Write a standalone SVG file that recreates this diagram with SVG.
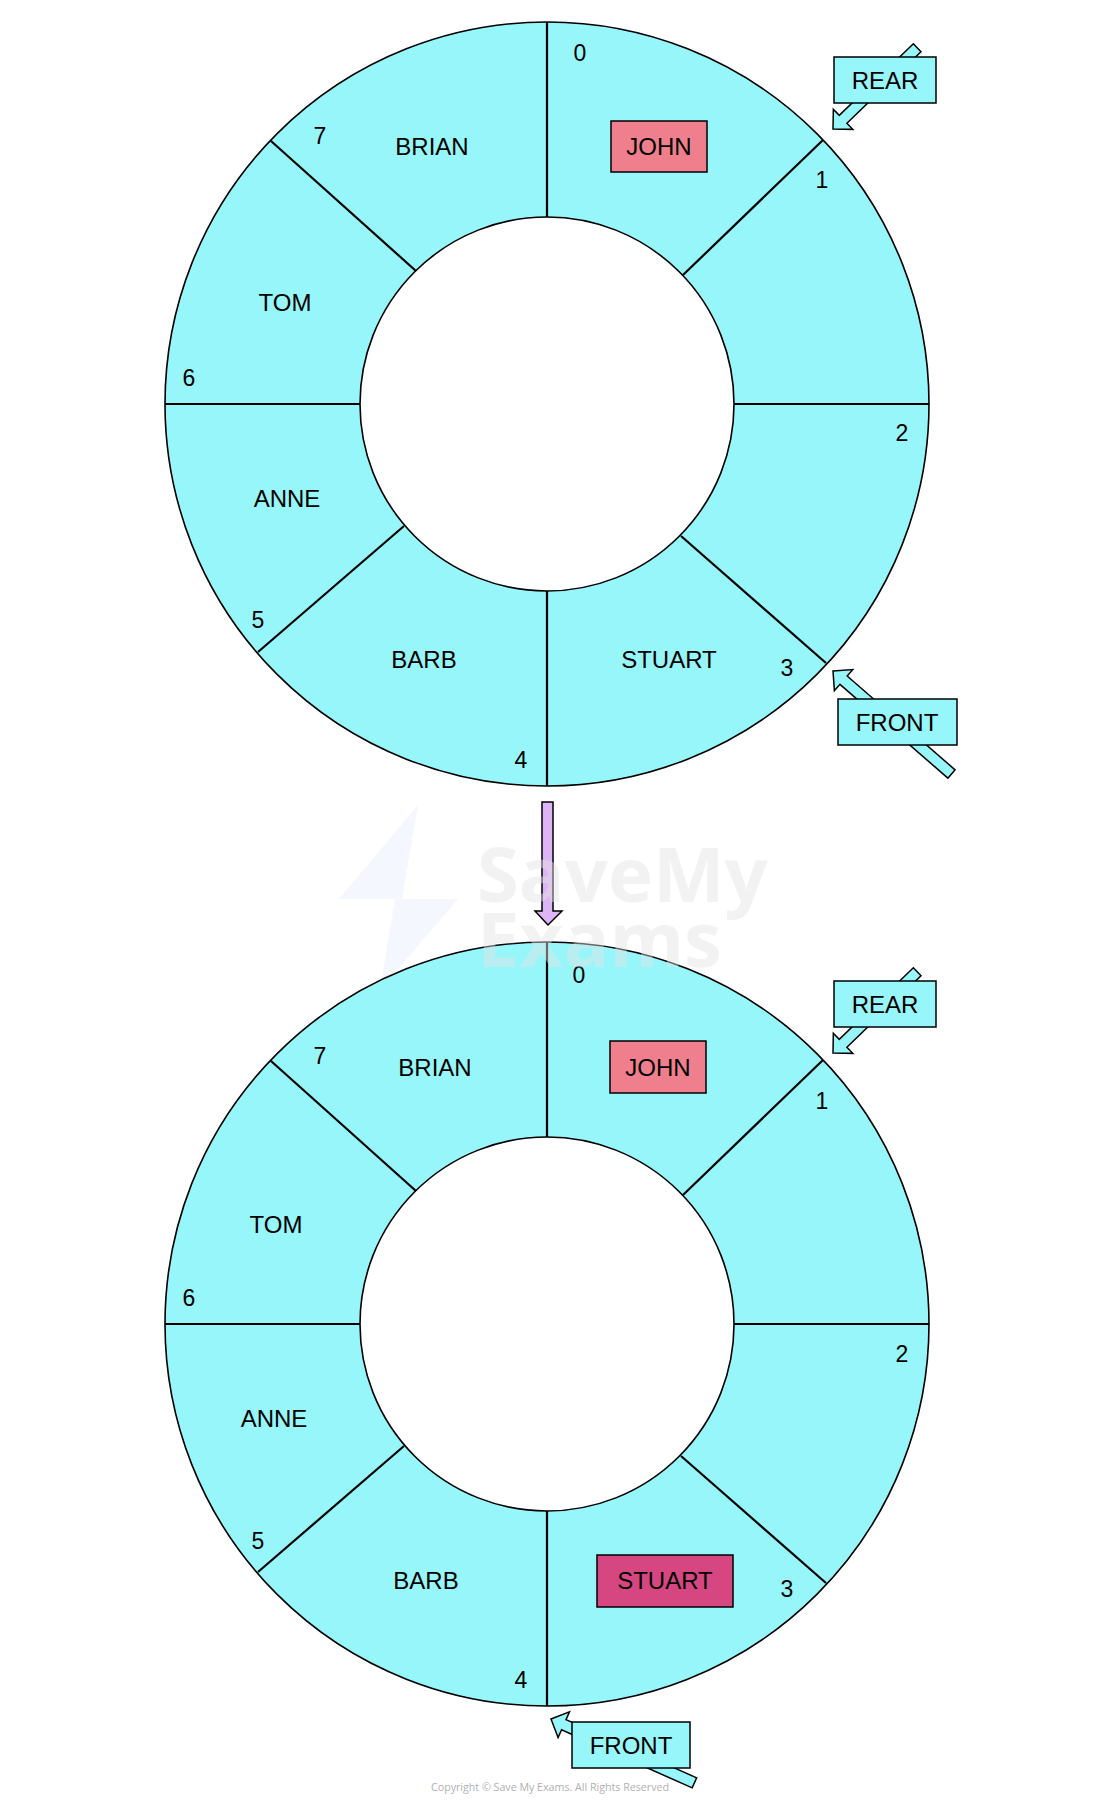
<svg xmlns="http://www.w3.org/2000/svg" width="1100" height="1801" viewBox="0 0 1100 1801">
<defs>
<style>
.ring{fill:#97F6FA;stroke:#000;stroke-width:1.6}
.hole{fill:#fff;stroke:#000;stroke-width:1.6}
.spoke{stroke:#000;stroke-width:2.2;fill:none}
.t{font-family:"Liberation Sans",Arial,sans-serif;font-size:24px;fill:#000;text-anchor:middle}
.d{font-family:"Liberation Sans",Arial,sans-serif;font-size:23px;fill:#000;text-anchor:middle}
.box{fill:#97F6FA;stroke:#000;stroke-width:1.5}
.john{fill:#F07F8D;stroke:#000;stroke-width:1.5}
.stuart{fill:#D64681;stroke:#000;stroke-width:1.5}
.arr{fill:#97F6FA;stroke:#000;stroke-width:1.5;stroke-linejoin:miter}
</style>
<g id="ringShape">
<circle class="ring" cx="547" cy="404" r="382"/>
<circle class="hole" cx="547" cy="404" r="187"/>
<line class="spoke" x1="547" y1="22" x2="547" y2="217"/>
<line class="spoke" x1="547" y1="591" x2="547" y2="786"/>
<line class="spoke" x1="165" y1="404" x2="360" y2="404"/>
<line class="spoke" x1="734" y1="404" x2="929" y2="404"/>
<line class="spoke" x1="683" y1="275" x2="823" y2="140"/>
<line class="spoke" x1="681" y1="536" x2="826" y2="663"/>
<line class="spoke" x1="416" y1="271" x2="271" y2="141"/>
<line class="spoke" x1="404" y1="526" x2="258" y2="652"/>
</g>
</defs>

<g id="watermark">
<polygon points="418,805 339,899 395,899 380,990 458,899 402,899" fill="#F4F7FE"/>
</g>

<g id="queue-before">
<use href="#ringShape"/>
<g id="idx-before">
<text class="d" x="580" y="61">0</text>
<text class="d" x="822" y="188">1</text>
<text class="d" x="902" y="441">2</text>
<text class="d" x="787" y="676">3</text>
<text class="d" x="521" y="768">4</text>
<text class="d" x="258" y="628">5</text>
<text class="d" x="189" y="386">6</text>
<text class="d" x="320" y="144">7</text>
</g>
<g id="slot0-before"><rect class="john" x="611" y="121" width="96" height="51"/><text class="t" x="659" y="155">JOHN</text></g>
<g id="slot3-before"><text class="t" x="669" y="668">STUART</text></g>
<g id="slot4-before"><text class="t" x="424" y="668">BARB</text></g>
<g id="slot5-before"><text class="t" x="287" y="507">ANNE</text></g>
<g id="slot6-before"><text class="t" x="285" y="311">TOM</text></g>
<g id="slot7-before"><text class="t" x="432" y="155">BRIAN</text></g>
</g>

<g id="queue-after">
<use href="#ringShape" transform="translate(0,920)"/>
<g id="idx-after">
<text class="d" x="579" y="983">0</text>
<text class="d" x="822" y="1109">1</text>
<text class="d" x="902" y="1362">2</text>
<text class="d" x="787" y="1597">3</text>
<text class="d" x="521" y="1688">4</text>
<text class="d" x="258" y="1549">5</text>
<text class="d" x="189" y="1306">6</text>
<text class="d" x="320" y="1064">7</text>
</g>
<g id="slot0-after"><rect class="john" x="610" y="1041" width="96" height="52"/><text class="t" x="658" y="1076">JOHN</text></g>
<g id="slot3-after"><rect class="stuart" x="597" y="1555" width="136" height="52"/><text class="t" x="665" y="1589">STUART</text></g>
<g id="slot4-after"><text class="t" x="426" y="1589">BARB</text></g>
<g id="slot5-after"><text class="t" x="274" y="1427">ANNE</text></g>
<g id="slot6-after"><text class="t" x="276" y="1233">TOM</text></g>
<g id="slot7-after"><text class="t" x="435" y="1076">BRIAN</text></g>
</g>

<g id="connectors">
<polygon class="arr" points="0,0 14,-14 14,-5.5 117,-5.5 117,5.5 14,5.5 14,14" transform="translate(833,129) rotate(-44)"/>
<polygon class="arr" points="0,0 14,-14 14,-5.5 157,-5.5 157,5.5 14,5.5 14,14" transform="translate(833,671) rotate(41)"/>
<polygon class="arr" points="0,0 14,-14 14,-5.5 117,-5.5 117,5.5 14,5.5 14,14" transform="translate(833,1053) rotate(-44)"/>
<polygon class="arr" points="0,0 14,-14 14,-5.5 157,-5.5 157,5.5 14,5.5 14,14" transform="translate(551,1719) rotate(24)"/>
<polygon points="542,802 553,802 553,911 562,911 548,925 535,911 542,911" fill="#DDB4F5" stroke="#000" stroke-width="1.5" stroke-linejoin="miter"/>
</g>

<g id="rear-before"><rect class="box" x="834" y="57" width="102" height="46"/><text class="t" x="885" y="89">REAR</text></g>
<g id="front-before"><rect class="box" x="838" y="699" width="119" height="46"/><text class="t" x="897" y="731">FRONT</text></g>
<g id="rear-after"><rect class="box" x="834" y="981" width="102" height="46"/><text class="t" x="885" y="1013">REAR</text></g>
<g id="front-after"><rect class="box" x="572" y="1722" width="118" height="46"/><text class="t" x="631" y="1754">FRONT</text></g>

<g id="watermark-text" font-family="'Open Sans','Liberation Sans',sans-serif" font-weight="bold" font-size="76" fill="#E4E4E4" opacity="0.45">
<text x="477" y="902">SaveMy</text>
<text x="477" y="967">Exams</text>
</g>

<text x="550" y="1791" font-family="'Open Sans','Liberation Sans',sans-serif" font-size="11" fill="#B0B0B0" text-anchor="middle" textLength="238" lengthAdjust="spacingAndGlyphs">Copyright © Save My Exams. All Rights Reserved</text>
</svg>
